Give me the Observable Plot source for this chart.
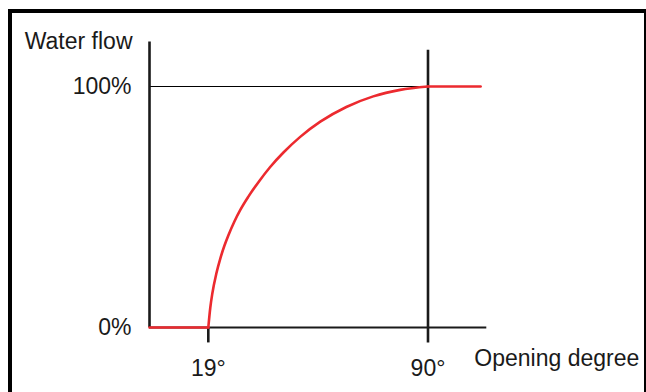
<!DOCTYPE html>
<html>
<head>
<meta charset="utf-8">
<script src="https://cdn.jsdelivr.net/npm/d3@7"></script>
<script src="https://cdn.jsdelivr.net/npm/@observablehq/plot@0.6"></script>
<style>
  html, body { margin: 0; padding: 0; background: #fff; }
  #wrap { position: relative; width: 646px; height: 392px; overflow: hidden; }
  #border { position: absolute; left: 8px; top: 9px; width: 631.5px; height: 420px;
            border: 4px solid #000; border-bottom: none; box-sizing: content-box; pointer-events: none; }
</style>
</head>
<body>
<div id="wrap"><div id="border"></div></div>
<script>
// Water flow (%) versus opening degree (°)
const openingDeg = [0, 19, 19.65, 20.3, 21.6, 22.9, 24.2, 25.5, 27.4, 29.3, 31.9, 35.2, 39.0, 43.2, 48.7, 55.2, 63.6, 72.3, 81.0, 90, 107];
const waterFlowPct = [0, 0, 8.3, 14.1, 22.4, 28.7, 33.9, 38.3, 43.9, 48.7, 54.2, 60.3, 66.6, 72.5, 79.1, 85.4, 91.5, 95.9, 98.6, 100, 100];

const xTickValues = [19, 90];
const xTickLabels = ["19°", "90°"];
const yTickValues = [0, 100];
const yTickLabels = ["0%", "100%"];
const xTitle = "Opening degree";
const yTitle = "Water flow";

const rows = openingDeg.map((d, i) => ({deg: d, pct: waterFlowPct[i]}));
const closedPart = rows.filter(r => r.deg <= 19);
const curvePart = rows.filter(r => r.deg >= 19 && r.deg <= 90);
const fullPart = rows.filter(r => r.deg >= 90);

const red = "#ec2a2f";
const ink = "#1a1a1a";
const font = "'Liberation Sans', Arial, Helvetica, sans-serif";
const fs = 23;

const chart = Plot.plot({
  width: 646,
  height: 392,
  marginTop: 0, marginRight: 0, marginBottom: 0, marginLeft: 0,
  x: {domain: [19, 90], range: [207.8, 427.5], axis: null},
  y: {domain: [0, 100], range: [327, 86], axis: null},
  style: {fontFamily: font, background: "transparent", overflow: "visible"},
  marks: [
    // 100% reference line
    Plot.ruleY([yTickValues[1]], {x1: 0, x2: xTickValues[1], stroke: "#000", strokeWidth: 1}),
    // y axis
    Plot.ruleX([0], {y1: 0, y2: 118.5, stroke: ink, strokeWidth: 2.6}),
    // x axis
    Plot.ruleY([0], {x1: 0, x2: 109, stroke: ink, strokeWidth: 2.2}),
    // 19° tick
    Plot.ruleX([xTickValues[0]], {y1: -6.4, y2: 0, stroke: ink, strokeWidth: 2.6}),
    // 90° line
    Plot.ruleX([xTickValues[1]], {y1: -6.4, y2: 115, stroke: ink, strokeWidth: 2.6}),
    // flow curve
    Plot.line(closedPart, {x: "deg", y: "pct", stroke: red, strokeWidth: 2.6}),
    Plot.line(curvePart, {x: "deg", y: "pct", stroke: red, strokeWidth: 2.6, curve: "monotone-x"}),
    Plot.line(fullPart, {x: "deg", y: "pct", stroke: red, strokeWidth: 2.6}),
    // y tick labels
    Plot.text(yTickValues, {x: 0, y: d => d, text: (d, i) => yTickLabels[i], textAnchor: "end", dx: -18, fontSize: fs, fill: ink}),
    // x tick labels
    Plot.text(xTickValues, {x: d => d, y: 0, text: (d, i) => xTickLabels[i], textAnchor: "middle", dy: 41, fontSize: fs, fill: ink}),
    // axis titles
    Plot.text([yTitle], {x: 0, y: 118.5, text: d => d, textAnchor: "end", dx: -17, fontSize: fs, fill: ink}),
    Plot.text([xTitle], {x: 109, y: 0, text: d => d, textAnchor: "start", dx: -12.5, dy: 31, fontSize: fs, fill: ink})
  ]
});
document.getElementById("wrap").prepend(chart);
</script>
</body>
</html>
